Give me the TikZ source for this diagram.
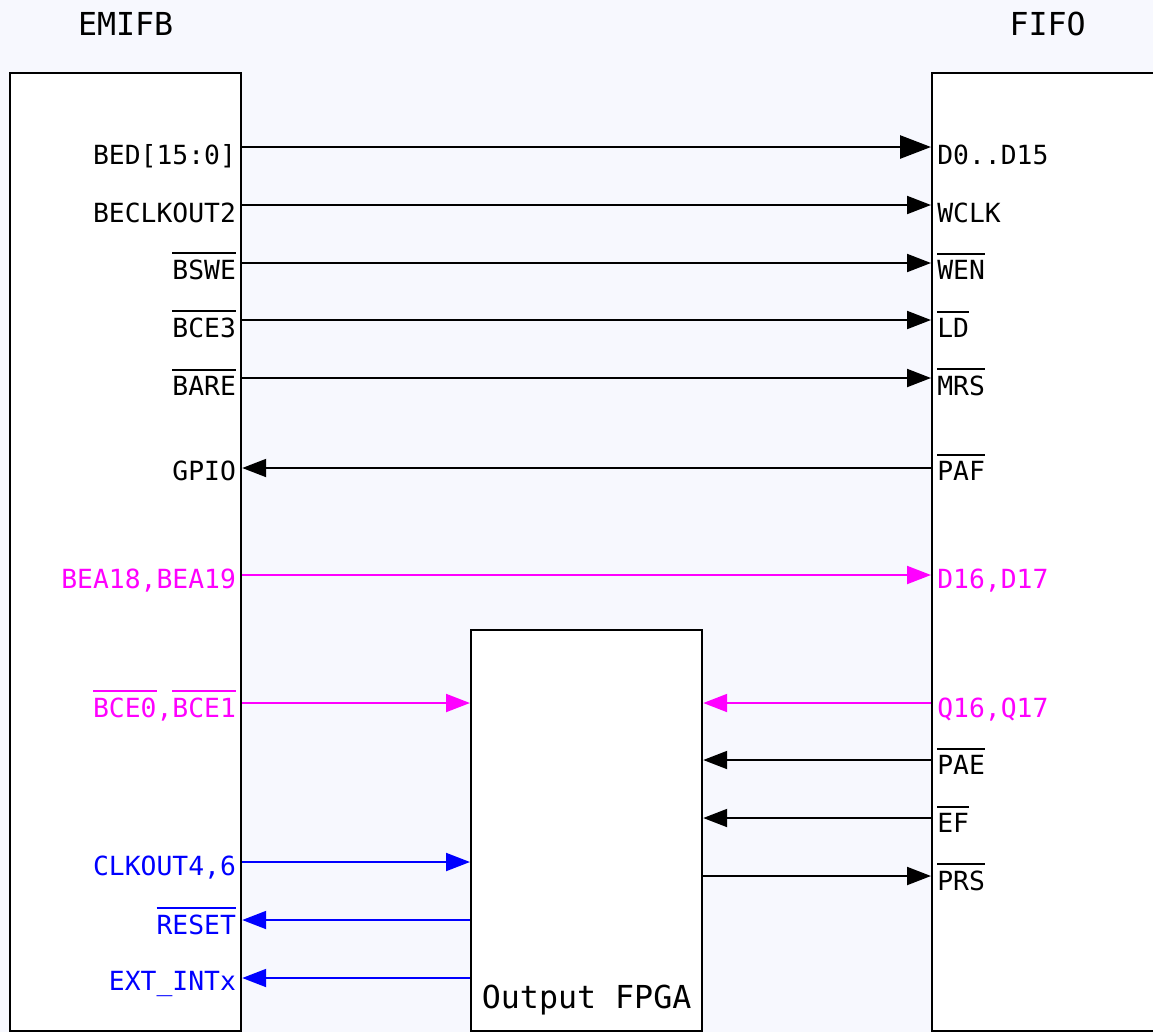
\documentclass[tikz,border=0pt]{standalone}
\usepackage{fontspec}
\setmonofont{DejaVu Sans Mono}
\usetikzlibrary{arrows.meta,positioning}
\definecolor{bgcol}{RGB}{247,248,254}
\definecolor{sigmag}{RGB}{255,0,255}
\definecolor{sigblue}{RGB}{0,0,255}
\newcommand{\ovl}[1]{\vbox{\hrule height 1.1pt\kern 3pt\hbox{#1}}}
\tikzset{
  chip/.style={draw, line width=1.3pt, fill=white, minimum width=4.62cm, anchor=north west, inner sep=0pt},
  pin/.style={font=\ttfamily\fontsize{15}{18}\selectfont, inner sep=0pt},
  chiptitle/.style={font=\ttfamily\fontsize{18}{21}\selectfont, anchor=base, inner sep=0pt},
  sig/.style={line width=1.15pt, -{Triangle[length=0.48cm,width=0.36cm]}},
  bus/.style={line width=1.55pt, -{Triangle[length=0.62cm,width=0.46cm]}}
}
\begin{document}
\begin{tikzpicture}[x=0.02cm, y=-0.02cm]
   \fill[bgcol] (0,0) rectangle (1153,1032);
   \useasboundingbox (0,0) rectangle (1153,1032);
   % the three chips
   \node[chip, minimum height=19.16cm] (emif) at (9,72) {};
   \node[chip, minimum height=19.16cm] (fifo) at (931,72) {};
   \node[chip, minimum height=8.02cm] (fpga) at (470,629) {};
   \node[chiptitle] (emiftitle) at ([yshift=0.74cm]emif.north) {EMIFB};
   \node[chiptitle] (fifotitle) at ([yshift=0.74cm]fifo.north) {FIFO};
   \node[chiptitle] (fpgatitle) at ([yshift=0.48cm]fpga.south) {Output FPGA};
   % signal rows
   \foreach \n/\y in {bed/147, clk/205, swe/263, ce3/320, are/378, gpio/468,
                      bea/575, ce/703, pae/760, ef/818, prs/876, clko/862,
                      rst/920, int/978}
     \coordinate (\n) at (0,\y);
   % EMIFB pins
   \foreach \n/\b/\c/\t in
     { bed/17/black/{BED[15:0]},
       clk/17/black/{BECLKOUT2},
       swe/16/black/{\ovl{BSWE}},
       ce3/17/black/{\ovl{BCE3}},
       are/17/black/{\ovl{BARE}},
       gpio/12/black/{GPIO},
       bea/13/sigmag/{BEA18,BEA19},
       ce/14/sigmag/{\ovl{BCE0},\ovl{BCE1}},
       clko/13/sigblue/{CLKOUT4,6},
       rst/14/sigblue/{\ovl{RESET}},
       int/12/sigblue/{EXT\_INTx}
     }
     \node[pin, text=\c, anchor=base east, xshift=-0.12cm, yshift={-\b*0.02cm}] (emif-\n) at (emif.east |- \n) {\t};
   % FIFO pins
   \foreach \n/\b/\c/\t in
     { bed/17/black/{D0..D15},
       clk/17/black/{WCLK},
       swe/16/black/{\ovl{WEN}},
       ce3/17/black/{\ovl{LD}},
       are/17/black/{\ovl{MRS}},
       gpio/12/black/{\ovl{PAF}},
       bea/13/sigmag/{D16,D17},
       ce/14/sigmag/{Q16,Q17},
       pae/14/black/{\ovl{PAE}},
       ef/14/black/{\ovl{EF}},
       prs/14/black/{\ovl{PRS}}
     }
     \node[pin, text=\c, anchor=base west, xshift=0.12cm, yshift={-\b*0.02cm}] (fifo-\n) at (fifo.west |- \n) {\t};
   % connectors
   \draw[bus] (emif.east |- bed) -- (fifo.west |- bed);
   \foreach \n in {clk, swe, ce3, are}
     \draw[sig] (emif.east |- \n) -- (fifo.west |- \n);
   \draw[sig] (fifo.west |- gpio) -- (emif.east |- gpio);
   \draw[sig, sigmag] (emif.east |- bea) -- (fifo.west |- bea);
   \draw[sig, sigmag] (emif.east |- ce) -- (fpga.west |- ce);
   \draw[sig, sigmag] (fifo.west |- ce) -- (fpga.east |- ce);
   \draw[sig] (fifo.west |- pae) -- (fpga.east |- pae);
   \draw[sig] (fifo.west |- ef) -- (fpga.east |- ef);
   \draw[sig] (fpga.east |- prs) -- (fifo.west |- prs);
   \draw[sig, sigblue] (emif.east |- clko) -- (fpga.west |- clko);
   \draw[sig, sigblue] (fpga.west |- rst) -- (emif.east |- rst);
   \draw[sig, sigblue] (fpga.west |- int) -- (emif.east |- int);
\end{tikzpicture}
\end{document}
